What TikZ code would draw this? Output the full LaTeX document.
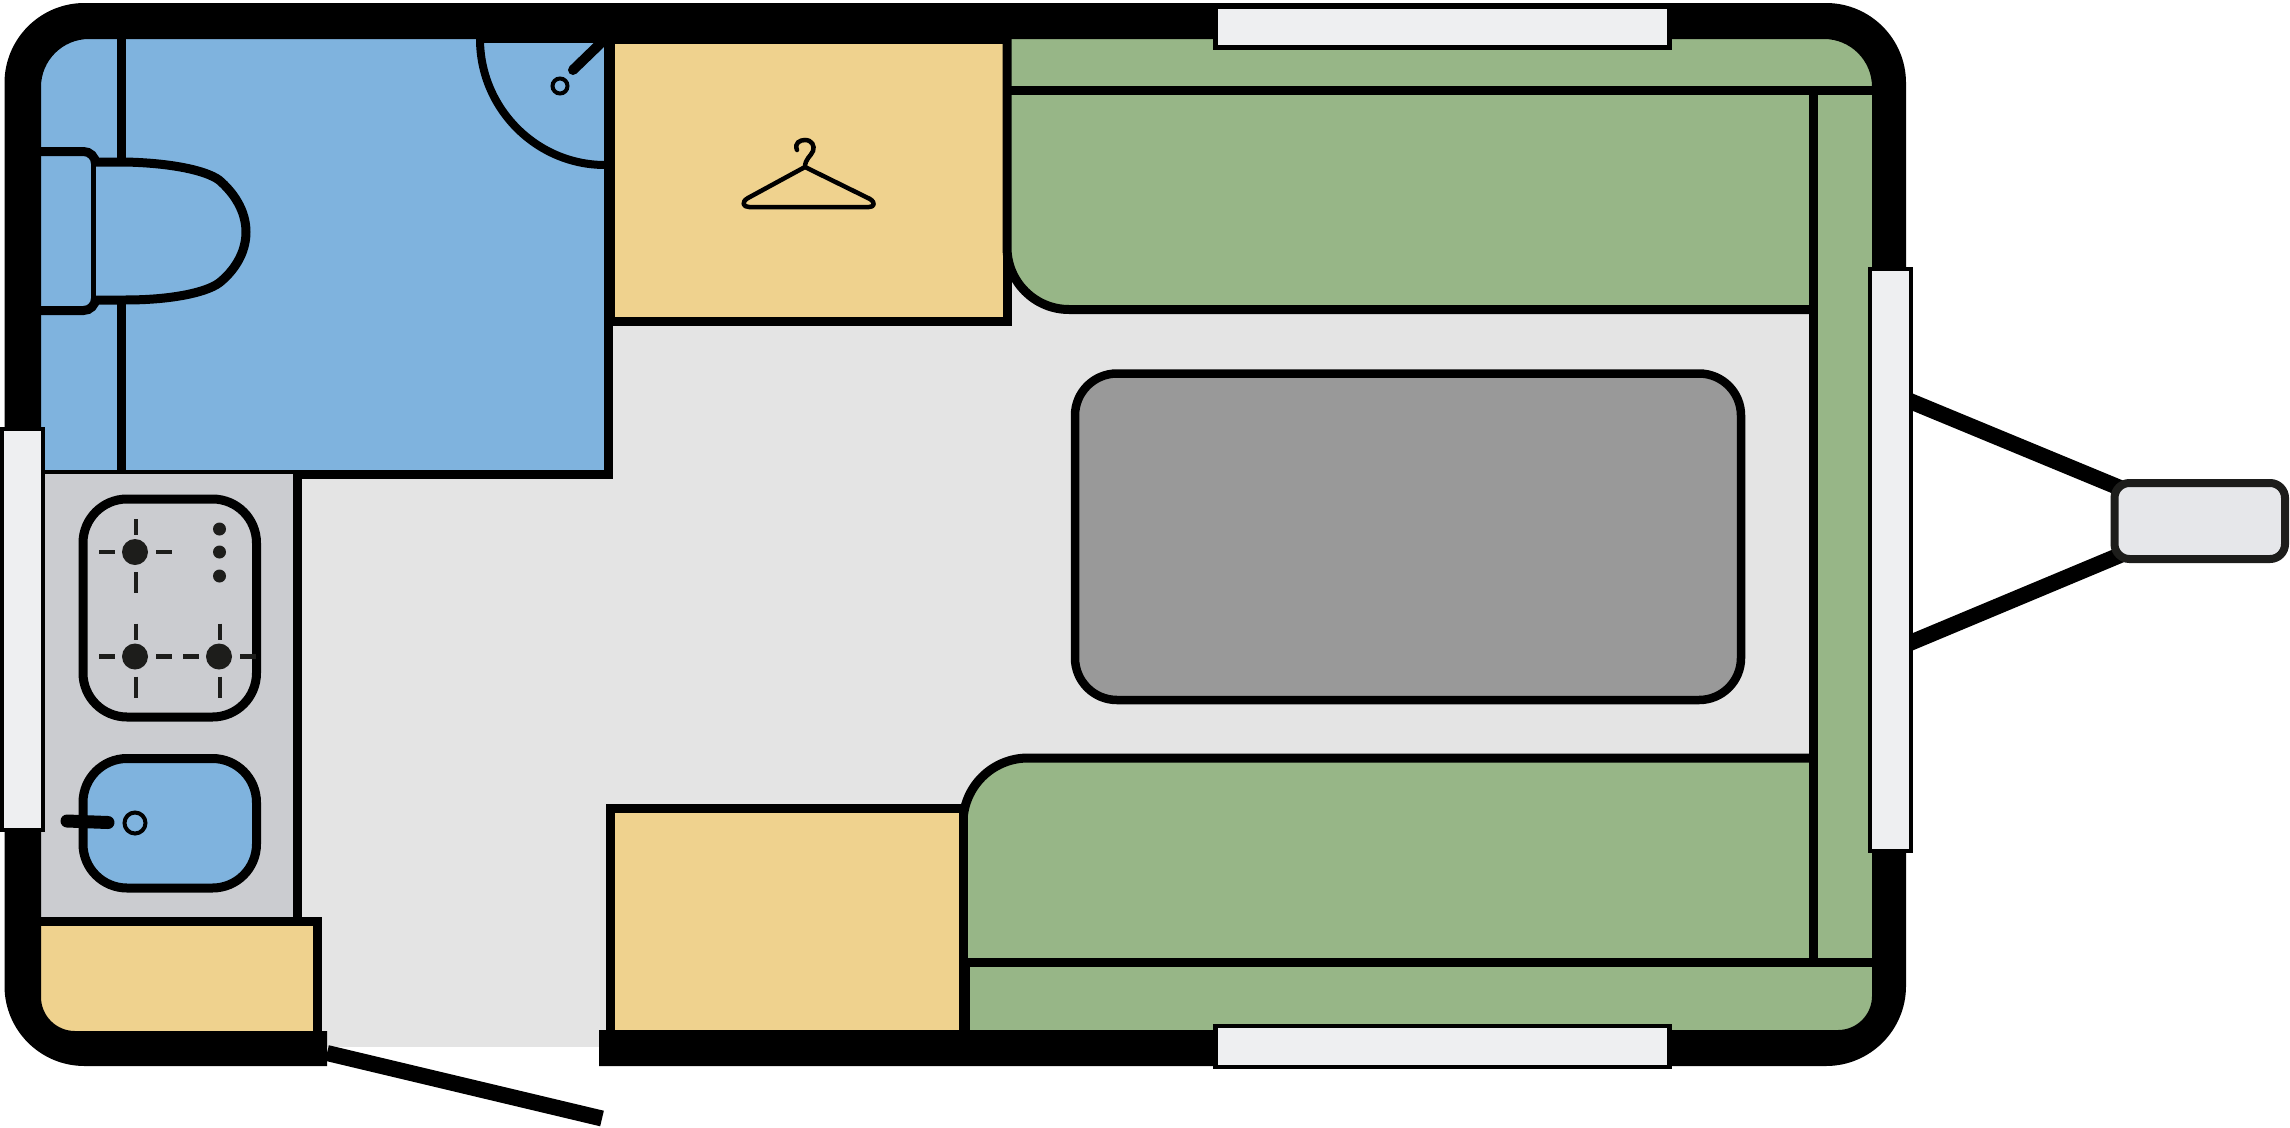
\documentclass[tikz,border=0pt]{standalone}
\usetikzlibrary{calc}
\definecolor{cBath}{RGB}{127, 179, 222}
\definecolor{cWood}{RGB}{239, 210, 142}
\definecolor{cSofa}{RGB}{151, 182, 135}
\definecolor{cFloor}{RGB}{228, 228, 228}
\definecolor{cTable}{RGB}{153, 153, 153}
\definecolor{cKitchen}{RGB}{203, 204, 208}
\definecolor{cGlass}{RGB}{238, 239, 241}
\definecolor{cHitch}{RGB}{230, 231, 234}
\definecolor{cInk}{RGB}{29, 29, 27}
\tikzset{
    % walls and furniture edges
    partLine/.style={draw=black, line width=9pt},
    % windows
    glassBox/.style={draw=black, line width=4.5pt, fill=cGlass},
    % hob and sink
    wellBox/.style={draw=black, line width=9pt, rounded corners=44pt},
    % marks round a burner
    burnerTick/.style={draw=cInk, line width=4.5pt},
    % door and drawbar
    barLine/.style={draw=black, line width=16pt}
}
% burner with its four ticks
\newcommand{\burnerAt}[2]{
	\fill[cInk] (#1,#2) circle[radius=13pt];
	\draw[burnerTick] (#1+1,#2-33) -- (#1+1,#2-17);
	\draw[burnerTick] (#1+1,#2+20) -- (#1+1,#2+41);
	\draw[burnerTick] (#1-36,#2) -- (#1-20,#2);
	\draw[burnerTick] (#1+21,#2) -- (#1+37,#2);
}

\begin{document}
\begin{tikzpicture}[x=1pt, y=-1pt]

	\useasboundingbox (0,0) rectangle (2290,1127);

	% 1. floor
	\fill[cFloor] (41,39) rectangle (1872,1047);

	% 2. bathroom
	\fill[cBath] (41,39) rectangle (608.5,474);
	\draw[partLine] (43,474) -- (608.5,474) -- (608.5,39);
	\draw[partLine] (121.5,39) -- (121.5,474);
	\draw[partLine, fill=cBath] (41,151.5) [rounded corners=12pt] -- (95.5,151.5) -- (95.5,310.5) [sharp corners] -- (41,310.5);
	\draw[partLine, fill=cBath] (96,162) -- (125,162) .. controls (170,163) and (205,170) .. (219,180)
		.. controls (233,192) and (246,210) .. (246,232) .. controls (246,254) and (233,272) .. (219,283)
		.. controls (205,293) and (170,300) .. (125,300) -- (96,300);
	% door swing
	\draw[partLine, line width=8pt] (480,39) .. controls (480,108) and (536,165) .. (605,165);
	\fill[black] (480,39) rectangle (608,43);
	\draw[black, line width=10pt, line cap=round] (573,70) -- (604,40);
	\draw[black, line width=4pt] (560,86) circle[radius=7.5pt];

	% 3. wardrobe
	\draw[partLine, fill=cWood] (610.5,39) rectangle (1007,321);
	\draw[black, line width=4.5pt, line cap=round] (797,150) .. controls (794,143) and (800,140) .. (805,140)
		.. controls (812,140) and (815,146) .. (813,151) .. controls (811,156) and (805,159) .. (805,167);
	\draw[black, line width=4.5pt, line join=round] (805,167) -- (870,199) .. controls (876,203) and (874,207) .. (869,207)
		-- (749,207) .. controls (743,207) and (741,202) .. (748,198) -- cycle;

	% 4. sofas
	\fill[cSofa] (1813.5,39) rectangle (1872,1032);
	\fill[cSofa] (1007,39) [rounded corners=62pt] -- (1007,309.5) [sharp corners] -- (1820,309.5) -- (1820,39) -- cycle;
	\draw[partLine] (1007,39) [rounded corners=62pt] -- (1007,309.5) [sharp corners] -- (1813.5,309.5);
	\fill[cSofa] (963,1032) [rounded corners=65pt] -- (963,758) [sharp corners] -- (1820,758) -- (1820,1032) -- cycle;
	\draw[partLine] (963,1032) [rounded corners=65pt] -- (963,758) [sharp corners] -- (1813.5,758);
	\draw[partLine] (1007,90.5) -- (1872,90.5);
	\draw[partLine] (963,962.5) -- (1872,962.5);
	\draw[partLine] (1813.5,90) -- (1813.5,963);
	\fill[black] (958,962) rectangle (970,1032);

	% 5. table
	\draw[partLine, line width=8.5pt, fill=cTable, rounded corners=42pt] (1075,373.5) rectangle (1741,700);

	% 6. kitchen
	\fill[cKitchen] (41,474) rectangle (297.5,921);
	\draw[partLine] (297.5,474) -- (297.5,921);
	\draw[wellBox] (83,499) rectangle (256.5,717);
	\burnerAt{135}{552}
	\burnerAt{135}{656.5}
	\burnerAt{219}{656.5}
	\foreach \dotY in {529,552,576}{
		\fill[cInk] (219.5,\dotY) circle[radius=6.5pt];
	}
	\draw[wellBox, fill=cBath] (83,758.5) rectangle (256.5,888);
	\draw[black, line width=13pt, line cap=round] (67,821) -- (108,822.5);
	\draw[black, line width=4pt, fill=cBath] (135,823) circle[radius=10.5pt];

	% 7. low cupboards
	\fill[cWood] (41,921) rectangle (317,1032);
	\draw[partLine] (41,921) -- (317,921) -- (317,1032);
	\draw[partLine, fill=cWood] (610.5,1032) -- (610.5,808.5) -- (963,808.5) -- (963,1032);

	% 8. outer wall
	\fill[black] (327,1032) -- (327,1066) [rounded corners=80pt] -- (4.5,1066) -- (4.5,3) -- (1906,3) -- (1906,1066)
		[sharp corners] -- (599,1066) -- (599,1030) [rounded corners=34pt] -- (1872,1030) [rounded corners=48pt] -- (1872,39) -- (41,39)
		[rounded corners=34pt] -- (41,1031) [sharp corners] -- (327,1031) -- cycle;

	% 9. door leaf and drawbar
	\draw[barLine] (327,1053) -- (602,1118.5);
	\draw[barLine] (1905,399) -- (2125,490);
	\draw[barLine] (1905,645) -- (2125,553);
	\draw[draw=cInk, line width=8pt, fill=cHitch, rounded corners=15pt] (2114.5,483) rectangle (2285,559);

	% 10. windows
	\draw[glassBox] (1215.5,7) rectangle (1669.5,47.5);
	\draw[glassBox] (1215.5,1026) rectangle (1669.5,1067);
	\draw[glassBox] (2,429) rectangle (43,830);
	\draw[glassBox] (1870,269) rectangle (1911,851);

\end{tikzpicture}
\end{document}
